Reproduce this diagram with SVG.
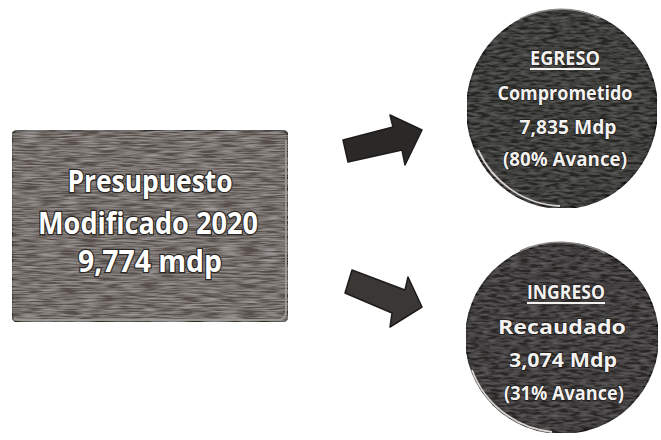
<svg xmlns="http://www.w3.org/2000/svg" width="661" height="440" viewBox="0 0 661 440">
<style>
.bt{font-family:"Open Sans","Noto Sans",sans-serif;font-weight:bold;font-size:30px;fill:#ffffff;stroke:#2a2725;stroke-width:2.5px;paint-order:stroke;text-anchor:middle}
.ct{font-family:"Open Sans","Noto Sans",sans-serif;font-weight:bold;font-size:20px;fill:#f4f2f0;stroke:#1c1a19;stroke-width:1.5px;paint-order:stroke;text-anchor:middle}
.arrow{stroke:#1e1c1b;stroke-width:1.5;stroke-linejoin:round}
</style>
<defs>
<filter id="grain" x="0" y="0" width="100%" height="100%">
<feTurbulence type="fractalNoise" baseFrequency="0.05 0.7" numOctaves="2" seed="3" result="n"/>
<feColorMatrix in="n" type="matrix" values="1.4 0 0 0 -0.45  1.4 0 0 0 -0.46  1.4 0 0 0 -0.47  0 0 0 0 0.35" result="m"/>
<feComposite in="m" in2="SourceGraphic" operator="in" result="d"/>
<feMerge><feMergeNode in="SourceGraphic"/><feMergeNode in="d"/></feMerge>
</filter>
<filter id="grain2" x="0" y="0" width="100%" height="100%">
<feTurbulence type="fractalNoise" baseFrequency="0.1 0.4" numOctaves="2" seed="7" result="n"/>
<feColorMatrix in="n" type="matrix" values="1.2 0 0 0 -0.4  1.2 0 0 0 -0.4  1.2 0 0 0 -0.4  0 0 0 0 0.15" result="m"/>
<feComposite in="m" in2="SourceGraphic" operator="in" result="d"/>
<feMerge><feMergeNode in="SourceGraphic"/><feMergeNode in="d"/></feMerge>
</filter>
</defs>
<rect width="661" height="440" fill="#ffffff"/>

<g id="connectors">
<polygon class="arrow" fill="#2b2927" points="343,140 393,127 390,115 422,130 405,165 402,150 348,162"/>
<polygon class="arrow" fill="#3a3735" points="352,270 405,290 408,277 422,307 390,327 392,313 345,293"/>
</g>

<g id="presupuesto">
<rect x="12" y="130" width="276" height="192" rx="7" fill="#6a645f" stroke="#3c3936" stroke-width="2" filter="url(#grain)"/>
<path d="M14,318 Q16,320 22,320 L278,320 Q285,320 286,312 L286,140" fill="none" stroke="#9b9792" stroke-width="2"/>
<text class="bt" x="150" y="192" textLength="165" lengthAdjust="spacingAndGlyphs">Presupuesto</text>
<text class="bt" x="148" y="234" textLength="220" lengthAdjust="spacingAndGlyphs">Modificado 2020</text>
<text class="bt" x="150" y="272" textLength="144" lengthAdjust="spacingAndGlyphs">9,774 mdp</text>
</g>

<g id="egreso">
<ellipse cx="562" cy="109" rx="95" ry="99" fill="#2b2928" stroke="#1a1918" stroke-width="2" filter="url(#grain2)"/>
<path d="M478,150 A95,99 0 0 0 560,206" fill="none" stroke="#d8d4d0" stroke-width="1.8"/>
<path d="M520,19 A95,99 0 0 1 600,18" fill="none" stroke="#8a8683" stroke-width="1.5"/>
<text class="ct" x="565" y="65" textLength="70" lengthAdjust="spacingAndGlyphs">EGRESO</text>
<line x1="530" y1="69" x2="600" y2="69" stroke="#f4f2f0" stroke-width="1.8"/>
<text class="ct" x="565" y="100" textLength="135" lengthAdjust="spacingAndGlyphs">Comprometido</text>
<text class="ct" x="568" y="134" textLength="97" lengthAdjust="spacingAndGlyphs">7,835 Mdp</text>
<text class="ct" x="565" y="166" textLength="124" lengthAdjust="spacingAndGlyphs">(80% Avance)</text>
</g>

<g id="ingreso">
<ellipse cx="562" cy="338" rx="96" ry="95" fill="#312e2d" stroke="#1a1918" stroke-width="2" filter="url(#grain2)"/>
<path d="M472,370 A96,95 0 0 0 552,432" fill="none" stroke="#d8d4d0" stroke-width="1.8"/>
<path d="M520,251 A96,95 0 0 1 605,253" fill="none" stroke="#8a8683" stroke-width="1.5"/>
<text class="ct" x="566" y="299" textLength="78" lengthAdjust="spacingAndGlyphs">INGRESO</text>
<line x1="527" y1="303" x2="605" y2="303" stroke="#f4f2f0" stroke-width="1.8"/>
<text class="ct" x="562" y="334" textLength="128" lengthAdjust="spacingAndGlyphs">Recaudado</text>
<text class="ct" x="563" y="367" textLength="108" lengthAdjust="spacingAndGlyphs">3,074 Mdp</text>
<text class="ct" x="564" y="400" textLength="120" lengthAdjust="spacingAndGlyphs">(31% Avance)</text>
</g>
</svg>
